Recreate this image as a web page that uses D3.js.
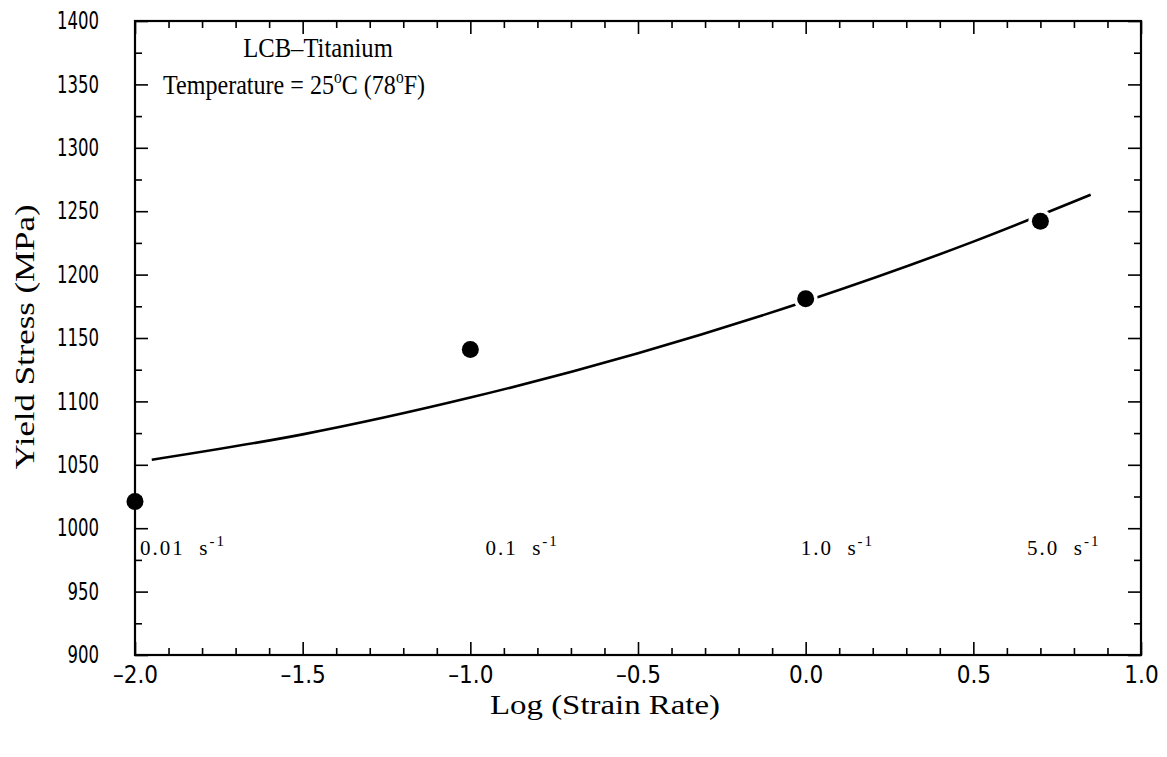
<!DOCTYPE html>
<html>
<head>
<meta charset="utf-8">
<script src="https://cdn.jsdelivr.net/npm/d3@7"></script>
<style>
  body { margin: 0; background: #fff; }
  .tick text { font-family: "Liberation Sans Narrow", "DejaVu Sans Condensed", "Liberation Sans", sans-serif; font-size: 24px; fill: #000; }
  .serif { font-family: "Liberation Serif", "DejaVu Serif", serif; fill: #000; }
</style>
</head>
<body>
<svg id="chart" width="1167" height="757"></svg>
<script>
// measured points (log strain rate vs yield stress)
const strainLog = [-2.0, -1.0, 0.0, 0.7];
const yieldStress = [1021, 1141, 1181, 1242];
const rateLabels = ["0.01", "0.1", "1.0", "5.0"];
const rateLabelX = [-1.985, -0.955, -0.015, 0.66];

// fitted curve
const fitLog = [-1.95, -1.5, -1.0, -0.5, 0.0, 0.5, 0.85];
const fitStress = [1054, 1074, 1103, 1138, 1179, 1226, 1263];

// axis ticks
const xMajor = [-2.0, -1.5, -1.0, -0.5, 0.0, 0.5, 1.0];
const xMinor = [-1.9, -1.8, -1.7, -1.6, -1.4, -1.3, -1.2, -1.1, -0.9, -0.8, -0.7, -0.6,
                -0.4, -0.3, -0.2, -0.1, 0.1, 0.2, 0.3, 0.4, 0.6, 0.7, 0.8, 0.9];
const yMajor = [900, 950, 1000, 1050, 1100, 1150, 1200, 1250, 1300, 1350, 1400];
const yMinor = [925, 975, 1025, 1075, 1125, 1175, 1225, 1275, 1325, 1375];

const margin = { top: 21, right: 26, bottom: 102, left: 135 };
const width = 1167, height = 757;

const svg = d3.select("#chart");

const x = d3.scaleLinear().domain([-2, 1]).range([margin.left, width - margin.right]);
const y = d3.scaleLinear().domain([900, 1400]).range([height - margin.bottom, margin.top]);

// Axes (ticks point inward)
function drawAxis(axisFn, scale, major, minor, transform, labels, pad) {
  let g = svg.append("g").attr("transform", transform);
  g.call(axisFn(scale).tickValues(major).tickSize(-13).tickPadding(pad)
    .tickFormat(labels ? labels : ""));
  g.append("g").call(axisFn(scale).tickValues(minor).tickSize(-7).tickFormat(""));
  g.selectAll(".domain").remove();
  g.selectAll("line").attr("stroke", "#000").attr("stroke-width", 1.6);
  return g;
}

const fmtX = (d) => d3.format(".1f")(d).replace("−", "\u2013");
drawAxis(d3.axisBottom, x, xMajor, xMinor, `translate(0,${height - margin.bottom})`, fmtX, 11);
drawAxis(d3.axisTop, x, xMajor, xMinor, `translate(0,${margin.top})`, null, 0);
const yAxisG = drawAxis(d3.axisLeft, y, yMajor, yMinor, `translate(${margin.left},0)`, d3.format("d"), 36);
drawAxis(d3.axisRight, y, yMajor, yMinor, `translate(${width - margin.right},0)`, null, 0);

// narrow digits on the y axis
yAxisG.selectAll(".tick text")
  .attr("textLength", (d) => String(d).length * 10.5)
  .attr("lengthAdjust", "spacingAndGlyphs");

// Frame
svg.append("rect")
  .attr("x", margin.left)
  .attr("y", margin.top)
  .attr("width", width - margin.left - margin.right)
  .attr("height", height - margin.top - margin.bottom)
  .attr("fill", "none")
  .attr("stroke", "#000")
  .attr("stroke-width", 2.2);

// Fit curve
const line = d3.line()
  .x((d, i) => x(fitLog[i]))
  .y((d) => y(d))
  .curve(d3.curveMonotoneX);

svg.append("path")
  .datum(fitStress)
  .attr("d", line)
  .attr("fill", "none")
  .attr("stroke", "#000")
  .attr("stroke-width", 2.6);

// white gap where the curve passes the markers
svg.selectAll(".halo")
  .data(yieldStress.slice(1))
  .enter()
  .append("circle")
  .attr("cx", (d, i) => x(strainLog[i + 1]))
  .attr("cy", (d) => y(d))
  .attr("r", 12)
  .attr("fill", "#fff");

svg.selectAll(".pt")
  .data(yieldStress)
  .enter()
  .append("circle")
  .attr("class", "pt")
  .attr("cx", (d, i) => x(strainLog[i]))
  .attr("cy", (d) => y(d))
  .attr("r", 8.5)
  .attr("fill", "#000");

// Strain-rate labels
const rl = svg.selectAll(".rate")
  .data(rateLabels)
  .enter()
  .append("text")
  .attr("class", "serif rate")
  .attr("x", (d, i) => x(rateLabelX[i]))
  .attr("y", y(979))
  .attr("xml:space", "preserve")
  .style("font-size", "21px")
  .style("letter-spacing", "2px");
rl.append("tspan").text((d) => d + "  s");
rl.append("tspan").attr("dy", -9).style("font-size", "15px").text("-1");

// Title block (tall, slightly condensed lettering)
svg.append("text")
  .attr("class", "serif")
  .attr("transform", "translate(318,57) scale(0.88,1)")
  .attr("text-anchor", "middle")
  .style("font-size", "28px")
  .text("LCB\u2013Titanium");

const t2 = svg.append("text")
  .attr("class", "serif")
  .attr("transform", "translate(163,94) scale(0.86,1)")
  .style("font-size", "28px");
t2.append("tspan").text("Temperature = 25");
t2.append("tspan").attr("dy", -11).style("font-size", "18px").text("o");
t2.append("tspan").attr("dy", 11).text("C (78");
t2.append("tspan").attr("dy", -11).style("font-size", "18px").text("o");
t2.append("tspan").attr("dy", 11).text("F)");

// Axis titles
svg.append("text")
  .attr("class", "serif")
  .attr("x", 605)
  .attr("y", 714)
  .attr("text-anchor", "middle")
  .attr("textLength", 230)
  .attr("lengthAdjust", "spacingAndGlyphs")
  .style("font-size", "27px")
  .text("Log (Strain Rate)");

svg.append("text")
  .attr("class", "serif")
  .attr("transform", "translate(34,337) rotate(-90)")
  .attr("text-anchor", "middle")
  .attr("textLength", 265)
  .attr("lengthAdjust", "spacingAndGlyphs")
  .style("font-size", "27px")
  .text("Yield Stress (MPa)");
</script>
</body>
</html>
